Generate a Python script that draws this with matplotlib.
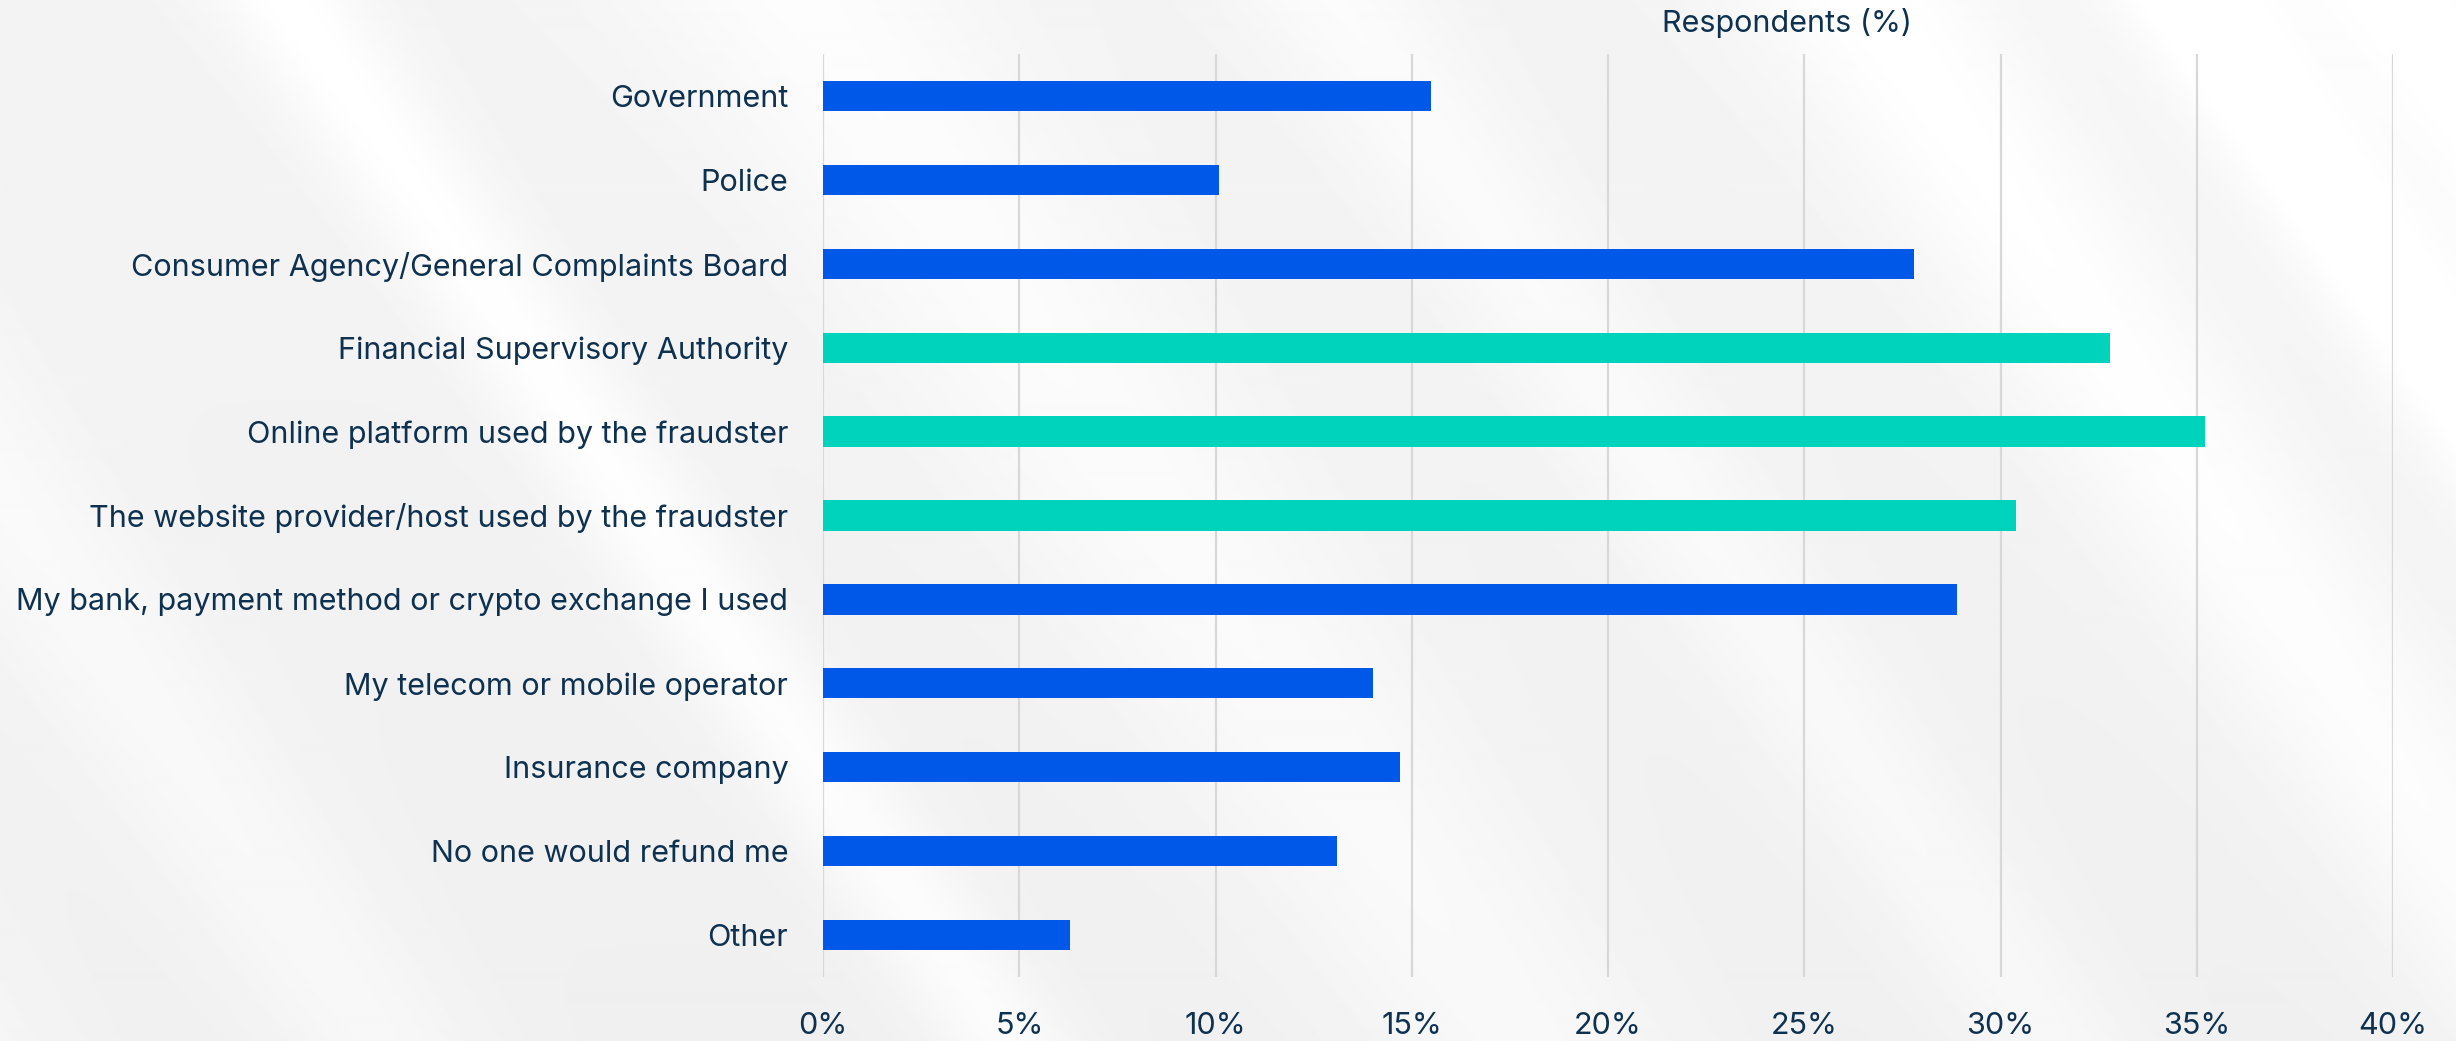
import numpy as np
import matplotlib.pyplot as plt

# survey answers, top to bottom
categories = [
    "Government",
    "Police",
    "Consumer Agency/General Complaints Board",
    "Financial Supervisory Authority",
    "Online platform used by the fraudster",
    "The website provider/host used by the fraudster",
    "My bank, payment method or crypto exchange I used",
    "My telecom or mobile operator",
    "Insurance company",
    "No one would refund me",
    "Other",
]
values = [15.5, 10.1, 27.8, 32.8, 35.2, 30.4, 28.9, 14.0, 14.7, 13.1, 6.3]
highlight = [False, False, False, True, True, True, False, False, False, False, False]
xticks = [0, 5, 10, 15, 20, 25, 30, 35, 40]
xtick_labels = ["0%", "5%", "10%", "15%", "20%", "25%", "30%", "35%", "40%"]

BLUE = "#0058e8"
TEAL = "#00d3bc"
TEXT = "#0e3150"
GRID = "#d8d8d8"

plt.rcParams["font.family"] = ["Inter", "DejaVu Sans"]

fig = plt.figure(figsize=(24.56, 10.41), dpi=100)
fig.patch.set_facecolor("#f0f0f0")

# soft diagonal light streaks behind everything
bg = fig.add_axes([0, 0, 1, 1], zorder=-10)
H, W = 520, 1228
yy, xx = np.mgrid[0:H, 0:W]
xs = xx * 1568 / W
ys = yy * 665 / H
u = (665 * xs - 460 * ys) / 808.6
shade = np.full(u.shape, 0.94)
for c, w, a in [(-180, 60, 0.03), (150, 40, 0.045), (420, 90, 0.035),
                (700, 50, 0.03), (980, 70, 0.045), (1150, 45, 0.06),
                (1260, 60, 0.05), (-420, 80, 0.03)]:
    shade += a * np.exp(-((u - c) / w) ** 2)
shade += 0.015 * (1 - ys / 665)
shade = np.clip(shade, 0, 1)
bg.imshow(shade, cmap="gray", vmin=0, vmax=1, aspect="auto", interpolation="bilinear")
bg.axis("off")

ax = fig.add_axes([823 / 2456, 1 - 977 / 1041, (2393 - 823) / 2456, (977 - 54) / 1041])
ax.patch.set_alpha(0)

y = np.arange(len(categories))
colors = [TEAL if h else BLUE for h in highlight]
ax.barh(y, values, height=0.36, color=colors, zorder=3)

ax.set_xlim(0, 40)
ax.set_ylim(len(categories) - 0.5, -0.5)
ax.set_xticks(xticks)
ax.set_xticklabels(xtick_labels)
ax.set_yticks(y)
ax.set_yticklabels(categories)
ax.tick_params(axis="both", length=0, labelsize=22, colors=TEXT)
ax.tick_params(axis="y", pad=25)
ax.tick_params(axis="x", pad=25)
ax.grid(axis="x", color=GRID, linewidth=1.6, zorder=0)
ax.grid(axis="y", visible=False)
for s in ax.spines.values():
    s.set_visible(False)

fig.text(1787 / 2456, 1 - 23 / 1041, "Respondents (%)", ha="center", va="center",
         fontsize=22, color=TEXT)

fig.savefig("out.png", dpi=100, facecolor=fig.get_facecolor())
